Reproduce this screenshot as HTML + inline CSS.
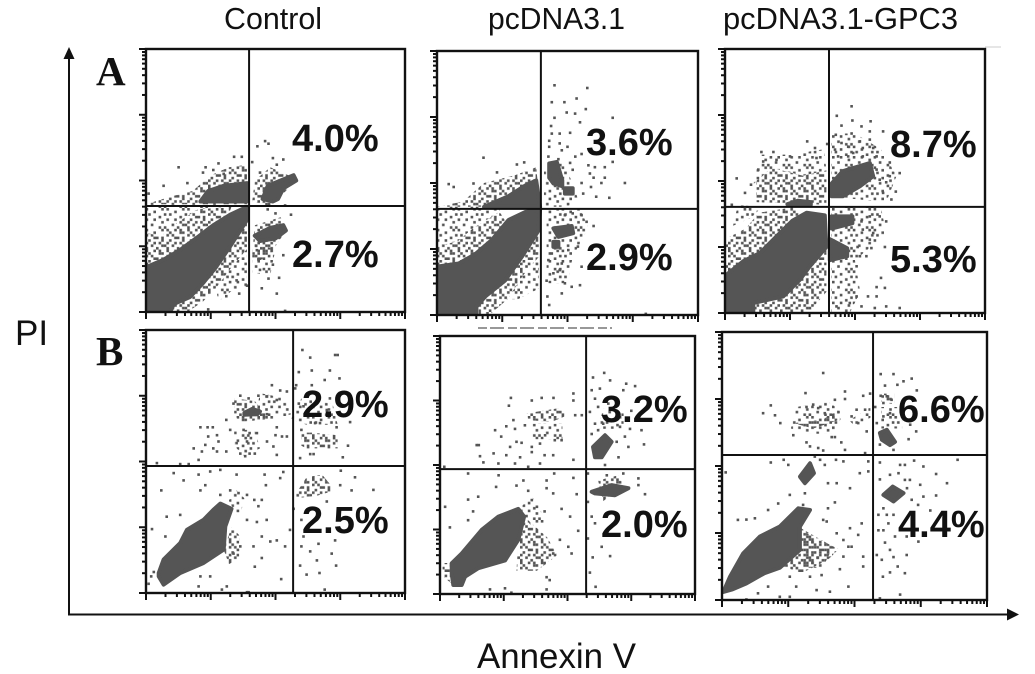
<!DOCTYPE html>
<html lang="en">
<head>
<meta charset="utf-8">
<title>Annexin V / PI flow cytometry panels</title>
<style>
html,body{margin:0;padding:0;background:#fff;width:1035px;height:674px;overflow:hidden}
svg{display:block}
text{font-family:"Liberation Sans",sans-serif;fill:#111}
.serif{font-family:"Liberation Serif",serif;font-weight:bold}
</style>
</head>
<body>
<svg id="figure" xmlns="http://www.w3.org/2000/svg" width="1035" height="674" viewBox="0 0 1035 674">
  <rect width="1035" height="674" fill="#fff"/>
  <text x="224" y="29" font-size="31" textLength="98" lengthAdjust="spacingAndGlyphs">Control</text>
  <text x="488" y="29" font-size="31" textLength="137" lengthAdjust="spacingAndGlyphs">pcDNA3.1</text>
  <text x="723" y="29" font-size="31" textLength="235" lengthAdjust="spacingAndGlyphs">pcDNA3.1-GPC3</text>
  <text x="15" y="345" font-size="35">PI</text>
  <text x="477" y="668" font-size="35" textLength="159" lengthAdjust="spacingAndGlyphs">Annexin V</text>
  <text class="serif" x="96" y="85" font-size="41">A</text>
  <text class="serif" x="96" y="365" font-size="41">B</text>
  <line x1="69" y1="56" x2="69" y2="615" stroke="#111" stroke-width="2"/>
  <polygon points="69,47 63.5,59 74.5,59" fill="#111"/>
  <line x1="68" y1="614.5" x2="1008" y2="614.5" stroke="#111" stroke-width="2"/>
  <polygon points="1019,614.5 1007,608.5 1007,620.5" fill="#111"/>
  <line x1="985" y1="47" x2="1001" y2="47" stroke="#ccc" stroke-width="1"/>
  <line x1="478" y1="328" x2="612" y2="328" stroke="#777" stroke-width="1.5" stroke-dasharray="9 3 14 4"/>
  <defs id="tile-defs"></defs>
  <g id="panels"></g>
</svg>
<script>
// Values are in channel units: 0-100 along each plot axis (four log decades).
const decades = [0, 1, 2, 3];
const minorSteps = [1, 2, 3, 4, 5, 6, 7, 8, 9];
const panelNames = ['a-control', 'a-pcdna', 'a-gpc3', 'b-control', 'b-pcdna', 'b-gpc3'];
const gateX = [39.8, 39.8, 40, 56.8, 57.3, 57];
const gateY = [40.3, 40.2, 40.2, 48.3, 48.4, 54.1];
const upperRightPercent = ['4.0%', '3.6%', '8.7%', '2.9%', '3.2%', '6.6%'];
const lowerRightPercent = ['2.7%', '2.9%', '5.3%', '2.5%', '2.0%', '4.4%'];

const a1Dense = [
  [0,17, 7,20, 13,23.5, 20,28.5, 26,33, 32.5,37, 39,40, 39,35, 32.5,25, 27,17, 22,11, 17,5.7, 10.7,3, 9.4,0, 0,0],
  [21,42, 24,46, 30,48, 39,49, 39,42],
  [45,43, 47,48, 52,50, 57,52, 58,50, 53,47, 51,43, 49,42],
  [42,29, 48,32, 53,33, 54,31, 50,28, 44,27]
];
const a1Halo = [
  [0,15, 0,30, 6,29, 12,34, 20,39, 33,40, 30,32, 20,25, 12,20, 6,16],
  [0,41, 10,44, 18,46, 25,52, 32,55, 39,56, 39,41],
  [39,35, 39,24, 33,17, 27,9, 22,4, 16,0, 9.4,0, 10.7,3, 17,5.7, 22,11, 27,17, 32.5,25],
  [41,42, 42,50, 48,55, 55,52, 58,50, 52,44, 48,40],
  [41,22, 42,33, 52,36, 54,31, 48,22, 43,19]
];
const a1Thin = [
  [41,15, 41,26, 50,24, 48,14],
  [0,30, 0,41, 20,41, 33,41, 20,39, 12,34, 6,29],
  [39,24, 39,10, 33,8, 28,4, 27,9, 33,17]
];
const a1Events = [12.6,55, 6.8,48, 28,56.5, 34,59, 37,59, 43,63, 46,65, 47.3,64, 53,58, 49,58.5, 50.5,56, 56,37, 50,37.5, 44,16, 47.3,12.7, 44.7,9, 50.5,7, 51.4,13, 53.7,0.4, 39,10, 35,12, 49,18, 53,21.6, 43.4,20, 42.8,23.5, 41,57, 44,53, 22,53, 23,55, 26,54, 30,52.5, 16,49, 1,45, 53.7,40.5, 47,39, 36,7, 31,6, 24,1];

const a2Dense = [
  [0,18.3, 8.3,19.5, 14.6,23, 21,28.4, 27.4,36, 33.8,39, 39.5,40, 38.9,32, 32.5,22, 26,13, 18.5,7, 15,3, 15,0, 0,0],
  [18,41, 27.4,45, 33.8,49, 38,51, 39.5,41],
  [43,57.4, 45.9,58, 48,51, 48,48.8, 44.6,49.8, 43,52],
  [44.6,32.8, 51.6,33.7, 52.2,31, 46.5,29.6],
  [44.6,27.7, 46.5,27.7, 46.5,25.8, 44.6,25.8],
  [49,48, 52,48, 52,46, 49,46]
];
const a2Halo = [
  [0,15, 0,26, 8,28, 14,33, 24,39, 30,30, 20,24, 14,20, 8,16],
  [0,41, 10,43, 18,50, 30,53, 38,56, 39.5,41],
  [39,32, 39,22, 33,15, 27,6, 20,0, 15,0, 15,3, 18.5,7, 26,13, 32.5,22]
];
const a2Thin = [
  [42,12, 42,40, 55,40, 58,33, 52,22, 50,12],
  [41,41, 41,56, 48,58, 52,50, 54,44, 50,41],
  [0,26, 0,41, 24,41, 24,39, 14,33, 8,28],
  [39,22, 39,10, 31,6, 27,6, 33,15]
];
const a2Events = [45,87, 57.6,86, 44,80.6, 48.8,80.6, 53.5,82, 57,78, 49.7,76.7, 52.9,76.3, 45,74.7, 54.8,73, 67.3,74.7, 43.7,71.6, 44,68.7, 47,68.7, 51,69, 43,66, 47,65, 43,63.7, 50,63.7, 47.8,62.4, 46.5,59, 42.7,60, 53,60, 51,57.6, 58,56.7, 60.5,56, 64.3,56, 67.3,58, 55.4,61, 52,55, 58.6,53.6, 60,52, 64.3,52, 72,50, 63,50, 55.4,50, 59,48.5, 61,44.8, 66,44.4, 56,46, 17.8,59.6, 4.5,49.6, 6.4,48.5, 30.6,57, 33.4,57.8, 23,54, 14,49.8, 60,33.7, 57.3,35.3, 55.4,37.8, 49,37.8, 52,38.5, 44,23.3, 50.3,24.6, 54,25.9, 47.8,19.5, 47,17, 42.7,20.8, 55.4,18.3, 44.6,15.8, 49,12, 51.6,10.7, 54.8,11.3, 42,13, 47.8,8.2, 42.3,7, 43,3.8, 80,0.4];

const a3Dense = [
  [0,14, 7,19.6, 13.4,22.7, 19.8,29, 26,35, 31.4,38, 38.4,37, 39,25, 32.6,17.7, 28.8,12.6, 22.4,6.3, 10.9,3.8, 10.9,0, 0,0],
  [41,49, 45.3,53.7, 55.7,56.8, 57,51.8, 51.9,48, 45.3,44.2, 41,44.2],
  [41,36.6, 49,36.6, 49,34, 41,32],
  [40.3,28, 47,24.5, 47,21.5, 40.3,20],
  [24,41.2, 28,42.5, 33,42, 33,41]
];
const a3Halo = [
  [0,28, 8,32, 13,38, 26,40, 31,36, 26,33, 20,27, 13.4,21, 7,18, 0,13],
  [32.6,17.7, 39,25, 39,8, 32,0, 20,0, 11,0, 11,3.8, 22,6, 28.8,12.6],
  [12,42, 12,50, 18,55, 30,52, 39,54, 39,41]
];
const a3Thin = [
  [10,48, 14,60, 25,60, 38,62, 39,54, 30,52, 18,55],
  [41,44, 41,68, 50,68, 60,62, 66,52, 62,42],
  [41,40, 60,40, 62,30, 50,20, 52,8, 48,0, 41,0],
  [3,33, 10,36, 14,40, 5,41]
];
const a3Events = [48.7,78.3, 43,74.7, 49,72.9, 56,72.6, 52.5,70.7, 44.8,71, 60.8,68.8, 42.6,67.5, 48.7,68, 55.7,68.8, 51.9,65, 55.7,65.7, 57,62.5, 44.8,64.4, 47.4,63, 42.3,61.9, 53,62.5, 49.3,60.6, 43.5,59.3, 47.4,59.3, 53,59.3, 58.3,59.3, 63.4,57, 67.2,53, 62,49.5, 63.4,51.8, 60.8,45.5, 65.7,46, 64,43, 58.3,54.3, 59.5,50.5, 31.6,65, 34.6,62.5, 39.3,64, 35.2,58.7, 14,61, 18.6,61, 25,59.3, 4.5,51, 19.8,58, 14.7,57.4, 12.8,54.3, 10,48.6, 7.7,45.5, 2.6,41, 62,34.7, 59.5,36.6, 55.7,36.6, 52.5,34.7, 53,31.6, 57,30.3, 55.7,27.8, 51,25, 61.5,25, 56.3,24.6, 51.9,21.5, 54.4,21.5, 50.6,17.7, 60,13.3, 58.3,9.8, 61.5,9.5, 55,6.3, 58.3,6.3, 52.5,2.5, 57.6,1.9, 62,2.5, 67.2,1.9, 50.6,6.3, 48,3.8, 42.9,2.5];

const b1Dense = [
  [4.9,7.6, 6.8,12.7, 13.2,19, 15.8,24, 22.2,27.8, 26,31.6, 28.7,34, 33,32, 30.6,25.3, 30,16.5, 22.2,11.4, 13.2,7.6, 6.8,3.2, 4.9,6.3],
  [38,68.5, 41,70, 44,69, 43,68, 38,67.8]
];
const b1Halo = [
  [34,68, 34,74, 42,73, 46,68, 46,66, 36,65],
  [60,56, 60,61, 64,61, 74,60, 74,55, 62,55],
  [58,38, 62,44, 68,45, 73,39, 66,37, 58,36],
  [30,16.5, 33,25, 36,22, 36,13, 32,11]
];
const b1Thin = [
  [34,56, 34,62, 42,62, 44,55, 38,52],
  [42,66, 44,76, 54,74, 56,68, 50,66],
  [56,66, 60,74, 72,72, 74,64, 62,64],
  [32,35, 34,40, 38,36, 36,28]
];
const b1Events = [60.4,92.4, 63.4,89.5, 73,90.5, 74,90.5, 64,84.6, 71,84.6, 59,84, 69,81, 74.7,81.6, 64,79, 58,79, 57.6,77.8, 59,72, 60.8,71, 71,74, 69.8,69.6, 78.8,65, 73.6,63, 65.3,64.6, 67.2,64.6, 60,62, 78,56, 76,51.6, 63.4,52.8, 64.7,52.8, 59.5,51.3, 48.6,79, 43.4,75, 36.4,75, 39.6,74, 46.7,74.7, 51.8,77, 54.4,76.6, 50.5,73.4, 31,65.8, 33.8,72, 21,63, 23.8,63, 25.8,63, 24,59.5, 27.4,60, 28,57.6, 22.9,56.3, 18.4,55, 21.6,53.8, 26,55, 27.4,53.8, 31,53.8, 35,57, 39,57.6, 36.4,53, 40,53, 42,53, 50,60, 52.5,59.5, 54.4,59.5, 49.2,55.7, 50.5,52.5, 46.7,57.6, 50.5,63, 46.7,68, 4.2,49.4, 13.2,49, 16.5,49, 20.3,50.6, 38.3,52, 32.5,62, 37.7,62, 40,60.8, 42.8,60.8, 10.7,45.6, 24.8,46.2, 20.3,45, 28.7,46.8, 35,45, 14.5,42.8, 22.9,41, 45.8,45, 51.8,43.7, 53,46, 46.3,41, 5.9,39, 21,39, 32.5,39, 35.7,38, 28.7,37.3, 39,37.3, 41.8,35.4, 44.7,35.4, 43.4,33, 8,29, 13.2,29.7, 2.3,24.3, 7.5,21.5, 42.8,27, 46.6,27.8, 39,27.8, 44.7,21.5, 48,19.6, 50.5,20, 55.6,24, 53.7,17.7, 41.5,17.7, 42,10, 44.7,13.3, 36.4,17.7, 33.8,15, 21,6.3, 24.8,6.3, 20.3,2.5, 29.3,1.3, 31.2,2.5, 52.2,5.3, 39,0.3, 39.6,0.3, 2,6.3, 1,3.5, 3,8, 60,27.8, 57,32, 69.8,34.8, 75,41, 79.4,39, 87.8,39.2, 80.7,44, 75.2,46.5, 60,17.7, 60.8,21.5, 63.4,15.8, 66.6,18.7, 73,20, 71.7,15, 66,12.4, 59.5,10.4, 73.4,10.4, 62,7, 67,7.6, 69,1.3];

const b2Dense = [
  [4.6,8, 4.6,11.9, 8.5,15.7, 16.3,24.8, 22.9,30, 30.7,33, 33,30, 30.7,21, 25.5,13, 15,10, 9.8,6.7, 8.5,3.5, 5.2,3.5],
  [60,57, 64.7,61.5, 67.3,59, 63.4,53, 60.8,53],
  [59.5,39.6, 67.3,42.2, 73.9,41, 68.6,38.3, 60.8,39]
];
const b2Halo = [
  [34,70, 46.4,72, 50,69.3, 43.8,66.7, 34.6,67.4],
  [33,30, 42,22, 46,15, 38,9, 30,9, 30.7,21],
  [62,44, 70,46, 72,42, 64,36],
  [1,7, 1,12, 4.6,12, 4.6,4]
];
const b2Thin = [
  [36,60, 36,66, 48,66, 48,60],
  [31,33, 36,38, 42,28, 36,26],
  [62,64, 64,72, 72,70, 72,64]
];
const b2Events = [64.4,85.7, 60,83.9, 66.7,82.8, 73,81.5, 76.5,80.6, 62.7,79.6, 59.5,79, 71.9,79, 60.8,75.7, 58.8,70.6, 62,72.5, 75,71, 66,73.8, 60.8,66, 64,66, 70.6,64.8, 74.5,64, 79,63.5, 62,63.5, 59.5,62, 72.5,61, 80,58, 73.9,57, 69.3,59, 70,53, 64.7,50, 27.8,76, 39.9,76, 44.5,76, 36,75, 52.3,77.7, 52.3,75, 27,73, 28.8,67.4, 33.3,65.4, 53,69.3, 55.6,69.3, 26,65, 21.6,63.5, 29.4,64, 24,61, 14.4,57.7, 15.2,57.7, 30,59, 32,58.6, 27.5,57, 36,57, 39.2,58.3, 45,59.6, 47.7,59.6, 41.2,61.5, 21,54.5, 15.7,53.4, 26,53.8, 31.4,53, 36,55, 41,53.8, 44.4,53.8, 17,51, 22.9,50.6, 29.4,50.6, 39.2,50.6, 52.3,52, 1.7,49.3, 34.6,49.3, 11,46.7, 23,46, 32.7,44, 44.8,46.7, 52.3,45, 41.8,44, 30,42, 22,41.5, 34.6,40, 41.8,41, 44.4,39, 53.6,38.7, 15,37.7, 11,36.6, 36,36.4, 47.7,33, 38,33.8, 41,32, 51,30, 2,33.8, 13,32, 11,28.6, 3.9,25.8, 54.2,24.5, 47,21, 50.3,18.3, 44.4,15.7, 51.6,15.7, 41,12, 41.8,6.5, 43,5.4, 41.8,1.8, 19.6,1.8, 25.5,2.2, 28,0.5, 58,35.7, 59.5,30, 60.8,27.4, 58,21.5, 63.4,18.3, 66.7,14.7, 59.9,14.2, 58.8,8.3, 61,2.8, 77.8,44.8, 80.4,38.7, 71.9,46.7, 65.4,46, 58,46.7, 77.8,42.2];

const b3Dense = [
  [0.5,3, 3,8.7, 8,17.4, 14.3,23.7, 21.8,27.4, 28.8,34.2, 33.2,33.6, 29.4,27.4, 29.4,18.7, 21.8,12, 16,10, 9.2,6.2, 4,4],
  [60.9,39.2, 64.4,42.3, 68.5,39.9, 64.7,36.8],
  [59.6,62.3, 62.2,63.5, 65.3,59, 63.4,57.8, 60.3,59.8],
  [29.4,46, 33.2,51, 34.7,47.3, 31.3,43.6]
];
const b3Halo = [
  [27,66, 38,67.3, 44,71, 44.5,67.3, 34.4,64],
  [29.4,27, 40,21, 44,19, 40,15, 30,10, 22,13],
  [60,74, 60,77, 65,77, 65,73]
];
const b3Thin = [
  [26,64, 28,72, 40,74, 46,70, 42,62, 32,62],
  [30,12, 38,12, 42,20, 30,26],
  [48,67, 56,72, 56,68, 50,65],
  [60,64, 60,72, 68,72, 68,64]
];
const b3Events = [38.2,84.7, 59.9,84.3, 64.7,84.3, 71.6,82.6, 68.5,81.6, 66.2,80.3, 61.5,80, 73.5,78.2, 46.4,77.8, 31.5,77.2, 55.9,77, 53.3,76.2, 59.9,76.2, 62.2,76, 64,74.7, 42.6,74.7, 46.4,75, 57.8,72, 60.9,73.5, 18.4,72.6, 15.5,69.7, 20,68.9, 22,66, 26.9,61.5, 31.9,72, 34.4,72.9, 36.3,71.6, 38.8,69.7, 48.9,68.5, 50.8,71, 54,71, 51.4,66, 54.6,62.9, 63.4,69.7, 60.9,68.5, 58.4,66, 71,65.4, 73.3,62.9, 70.4,60, 41.4,60.8, 42.6,60.8, 45,58.8, 31.9,58.8, 33.2,57.3, 36.3,56.7, 38.2,55.8, 46.4,56, 54,54.8, 64.7,56, 59.6,58, 18.4,51.3, 23.3,52.3, 25,50.4, 35,53.5, 37,52.3, 43,52.3, 45.8,51.7, 55.2,51.7, 38.8,50.4, 52,47.3, 55.2,48, 40,43.6, 43.3,43.6, 48.3,41.7, 1.4,47.6, 25.6,39.2, 31.3,39.8, 21.2,36, 42.6,36.4, 40,34.2, 30.6,35.5, 17.4,33.6, 38.2,29.9, 39.5,29.3, 6,29.9, 9.2,30, 12.4,30.5, 52.7,28.6, 48.3,26.8, 51.4,24.3, 43.3,24.9, 47.7,19.9, 48.9,19.9, 45.8,22.4, 53.3,16.2, 45.8,16.2, 53.3,12.5, 44.5,11.5, 37.6,9.3, 33.2,8.7, 28,5, 35.7,3.7, 47.7,5, 40.7,3.1, 25.6,1.2, 21.8,1.2, 13.6,2.5, 17.4,5, 9.2,0.2, 25.6,8.7, 59.6,51.3, 67.2,50.4, 69,50.4, 72.5,52, 76,49.8, 80.8,47, 88.9,52.3, 84.9,43.6, 63.4,46.7, 66.6,47.3, 69,44.8, 70.9,44.8, 59.6,45, 74.8,43, 69.8,41.7, 76,38.6, 80.8,39, 71.6,37.4, 74,35.5, 59,31.8, 62.2,31.8, 64.7,31.8, 60.9,34.2, 78.6,33.4, 62.8,28.6, 59,26, 60.9,26, 65.3,23.7, 69.7,23.7, 74.1,21.8, 61.5,21.4, 63.4,18.7, 69.7,16.8, 58.4,16.8, 60.3,15, 64.7,16, 66.3,12.5, 69,10, 63.4,10.3, 60.7,8.7, 67.2,2, 59.6,0.6];

const denseByPanel = [a1Dense, a2Dense, a3Dense, b1Dense, b2Dense, b3Dense];
const haloByPanel = [a1Halo, a2Halo, a3Halo, b1Halo, b2Halo, b3Halo];
const thinByPanel = [a1Thin, a2Thin, a3Thin, b1Thin, b2Thin, b3Thin];
const eventsByPanel = [a1Events, a2Events, a3Events, b1Events, b2Events, b3Events];

// Layout (pixels): plot frame edges and label anchors, separate from the data above.
const frameLayout = [
  {l:146, t:49,  r:405, b:312, tx:292, ty1:151, ty2:267},
  {l:437, t:51,  r:698, b:315, tx:586, ty1:155, ty2:270},
  {l:725, t:49,  r:985, b:313, tx:890, ty1:157, ty2:272},
  {l:146, t:330, r:405, b:593, tx:302, ty1:417, ty2:533},
  {l:440, t:336, r:695, b:594, tx:601, ty1:422, ty2:537},
  {l:722, t:332, r:987, b:600, tx:898, ty1:422, ty2:537}
];
const haloTile = ['X..X.X..', '.X...XX.', 'X.X.....', '...XX.X.', '.X....X.', 'X..X.X..', '..X...XX', 'X...X...'];
const thinTile = ['X.....X.', '...X....', '.X.....X', '.....X..', 'X..X....', '......X.', '..X.....', '.....X.X'];
const CELL = 2.6;
const INK = '#555';
const SVGNS = 'http://www.w3.org/2000/svg';

function make(tag, attrs) {
  const el = document.createElementNS(SVGNS, tag);
  for (const k in attrs) el.setAttribute(k, attrs[k]);
  return el;
}
function buildTile(id, rows) {
  const p = make('pattern', {id: id, patternUnits: 'userSpaceOnUse', width: rows[0].length * CELL, height: rows.length * CELL});
  rows.forEach(function (row, j) {
    row.split('').forEach(function (c, i) {
      if (c === 'X') p.appendChild(make('rect', {x: i * CELL, y: j * CELL, width: CELL, height: CELL, fill: INK}));
    });
  });
  document.getElementById('tile-defs').appendChild(p);
}
buildTile('halo-tile', haloTile);
buildTile('thin-tile', thinTile);

function scaleX(f, v) { return f.l + (f.r - f.l) * v / 100; }
function scaleY(f, v) { return f.b - (f.b - f.t) * v / 100; }
function polyPoints(f, flat) {
  const out = [];
  for (let i = 0; i < flat.length; i += 2) out.push(scaleX(f, flat[i]).toFixed(1) + ',' + scaleY(f, flat[i + 1]).toFixed(1));
  return out.join(' ');
}
function tickFractions() {
  const out = [];
  decades.forEach(function (d) {
    minorSteps.forEach(function (m) {
      out.push({v: (d + Math.log10(m)) * 25, major: m === 1});
    });
  });
  out.push({v: 100, major: true});
  return out;
}

const root = document.getElementById('panels');
frameLayout.forEach(function (f, idx) {
  const name = panelNames[idx];
  const g = make('g', {});
  
  
  const clipId = 'clip-' + name;
  const clip = make('clipPath', {id: clipId});
  clip.appendChild(make('rect', {x: f.l, y: f.t, width: f.r - f.l, height: f.b - f.t}));
  document.getElementById('tile-defs').appendChild(clip);
  const marks = make('g', {'clip-path': 'url(#' + clipId + ')'});
  
  
  g.appendChild(marks);

  thinByPanel[idx].forEach(function (poly) {
    const el = make('polygon', {points: polyPoints(f, poly), fill: 'url(#thin-tile)'});
    
    
    marks.appendChild(el);
  });
  haloByPanel[idx].forEach(function (poly) {
    const el = make('polygon', {points: polyPoints(f, poly), fill: 'url(#halo-tile)'});
    
    
    marks.appendChild(el);
  });
  denseByPanel[idx].forEach(function (poly) {
    const el = make('polygon', {points: polyPoints(f, poly), fill: INK, stroke: INK, 'stroke-width': 4, 'stroke-linejoin': 'round'});
    
    
    marks.appendChild(el);
  });
  const ev = eventsByPanel[idx];
  for (let i = 0; i < ev.length; i += 2) {
    const dot = make('rect', {x: (scaleX(f, ev[i]) - CELL / 2).toFixed(1), y: (scaleY(f, ev[i + 1]) - CELL / 2).toFixed(1), width: CELL, height: CELL, fill: INK});
    
    
    marks.appendChild(dot);
  }

  tickFractions().forEach(function (t) {
    const len = t.major ? 7 : 4;
    const xTick = make('line', {x1: scaleX(f, t.v), x2: scaleX(f, t.v), y1: f.b, y2: f.b + len, stroke: '#111', 'stroke-width': 2});
    
    
    g.appendChild(xTick);
    const yTick = make('line', {x1: f.l - len, x2: f.l, y1: scaleY(f, t.v), y2: scaleY(f, t.v), stroke: '#111', 'stroke-width': 2});
    
    
    g.appendChild(yTick);
  });

  const frame = make('rect', {x: f.l, y: f.t, width: f.r - f.l, height: f.b - f.t, fill: 'none', stroke: '#111', 'stroke-width': 2.4});
  
  
  g.appendChild(frame);

  const vGate = make('line', {x1: scaleX(f, gateX[idx]), x2: scaleX(f, gateX[idx]), y1: f.t, y2: f.b, stroke: '#111', 'stroke-width': 2});
  
  
  g.appendChild(vGate);
  const hGate = make('line', {x1: f.l, x2: f.r, y1: scaleY(f, gateY[idx]), y2: scaleY(f, gateY[idx]), stroke: '#111', 'stroke-width': 2});
  
  
  g.appendChild(hGate);

  const ur = make('text', {x: f.tx, y: f.ty1, 'font-size': 38, 'font-weight': 'bold'});
  ur.textContent = upperRightPercent[idx];
  
  
  g.appendChild(ur);
  const lr = make('text', {x: f.tx, y: f.ty2, 'font-size': 38, 'font-weight': 'bold'});
  lr.textContent = lowerRightPercent[idx];
  
  
  g.appendChild(lr);

  root.appendChild(g);
});
</script>
</body>
</html>
